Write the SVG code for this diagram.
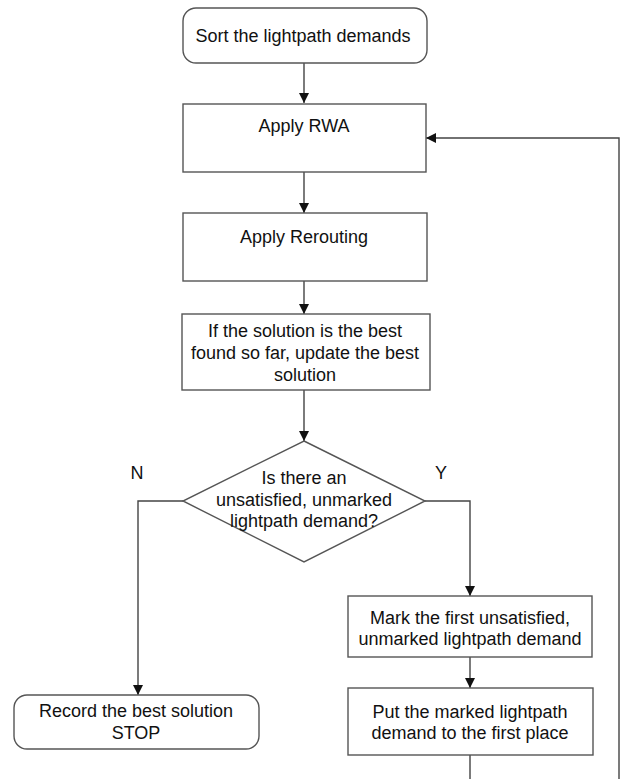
<svg xmlns="http://www.w3.org/2000/svg" width="624" height="779" viewBox="0 0 624 779">
<defs>
<marker id="ah" viewBox="0 0 10 10" refX="10" refY="5" markerWidth="10" markerHeight="10" markerUnits="userSpaceOnUse" orient="auto">
<path d="M0,0 L10,5 L0,10 Z" fill="#111"/>
</marker>
<style>
.box{fill:#fff;stroke:#555;stroke-width:1.4}
.ln{fill:none;stroke:#444;stroke-width:1.4;marker-end:url(#ah)}
text{font-family:"Liberation Sans",Arial,sans-serif;font-size:18px;fill:#111;text-anchor:middle}
</style>
</defs>
<rect width="624" height="779" fill="#fff"/>
<g id="connectors">
<path class="ln" d="M304,63 V103"/>
<path class="ln" d="M304,172 V213"/>
<path class="ln" d="M304,281 V314"/>
<path class="ln" d="M304,390 V441"/>
<path class="ln" d="M183,501 H138 V695"/>
<path class="ln" d="M425,501 H470 V596"/>
<path class="ln" d="M470,657 V688"/>
<path class="ln" d="M470,755 V782 H619 V138 H426"/>
</g>
<g id="sort">
<rect class="box" x="183" y="8" width="244" height="55" rx="13"/>
<text x="303" y="42">Sort the lightpath demands</text>
</g>
<g id="rwa">
<rect class="box" x="183" y="104" width="243" height="68"/>
<text x="304" y="132">Apply RWA</text>
</g>
<g id="rerouting">
<rect class="box" x="183" y="213" width="244" height="68"/>
<text x="304" y="243">Apply Rerouting</text>
</g>
<g id="update">
<rect class="box" x="182" y="314" width="248" height="76"/>
<text x="305" y="337">If the solution is the best</text>
<text x="305" y="359">found so far, update the best</text>
<text x="305" y="381">solution</text>
</g>
<g id="decision">
<polygon class="box" points="304,441 425,501 304,562 183,501"/>
<text x="304" y="484">Is there an</text>
<text x="304" y="506">unsatisfied, unmarked</text>
<text x="304" y="527">lightpath demand?</text>
</g>
<g id="labels">
<text x="137" y="479">N</text>
<text x="441" y="479">Y</text>
</g>
<g id="record">
<rect class="box" x="14" y="695" width="245" height="54" rx="13"/>
<text x="136" y="717">Record the best solution</text>
<text x="136" y="739">STOP</text>
</g>
<g id="mark">
<rect class="box" x="348" y="596" width="244" height="61"/>
<text x="470" y="624">Mark the first unsatisfied,</text>
<text x="470" y="645">unmarked lightpath demand</text>
</g>
<g id="put">
<rect class="box" x="348" y="688" width="245" height="67"/>
<text x="470" y="718">Put the marked lightpath</text>
<text x="470" y="739">demand to the first place</text>
</g>
</svg>
